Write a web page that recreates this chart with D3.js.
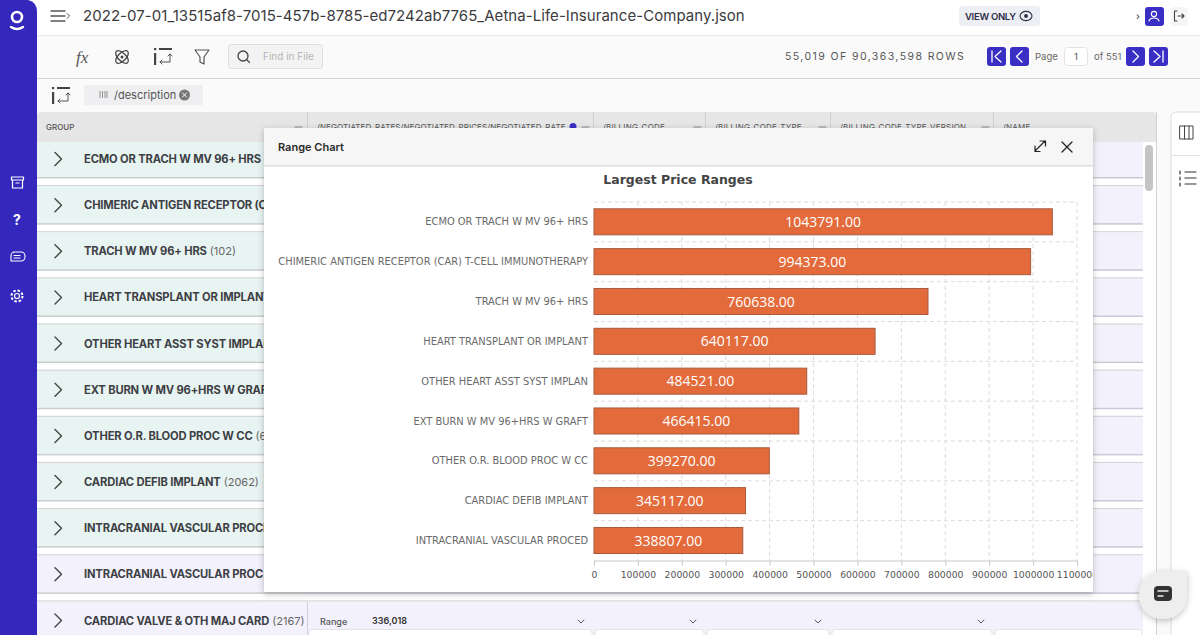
<!DOCTYPE html>
<html>
<head>
<meta charset="utf-8">
<script src="https://cdn.jsdelivr.net/npm/d3@7"></script>
<style>
  html, body { margin: 0; padding: 0; background: #fafafa; overflow: hidden; }
  svg { display: block; font-family: Inter, "Open Sans", sans-serif; }
  .axis text { font-family: "DejaVu Sans", sans-serif; font-size: 9.3px; fill: #555; }
  .axis path, .axis line { stroke: #c8c8d0; }
</style>
</head>
<body>
<script>
// chart data
let categories = ["ECMO OR TRACH W MV 96+ HRS", "CHIMERIC ANTIGEN RECEPTOR (CAR) T-CELL IMMUNOTHERAPY", "TRACH W MV 96+ HRS",
  "HEART TRANSPLANT OR IMPLANT", "OTHER HEART ASST SYST IMPLAN", "EXT BURN W MV 96+HRS W GRAFT",
  "OTHER O.R. BLOOD PROC W CC", "CARDIAC DEFIB IMPLANT", "INTRACRANIAL VASCULAR PROCED"]
let priceRanges = [1043791, 994373, 760638, 640117, 484521, 466415, 399270, 345117, 338807]
let xTicks = [0, 100000, 200000, 300000, 400000, 500000, 600000, 700000, 800000, 900000, 1000000, 1100000]

// table behind the chart
let groupNames = ["ECMO OR TRACH W MV 96+ HRS", "CHIMERIC ANTIGEN RECEPTOR (CAR)", "TRACH W MV 96+ HRS", "HEART TRANSPLANT OR IMPLANT",
  "OTHER HEART ASST SYST IMPLANT", "EXT BURN W MV 96+HRS W GRAFT", "OTHER O.R. BLOOD PROC W CC", "CARDIAC DEFIB IMPLANT",
  "INTRACRANIAL VASCULAR PROCED", "INTRACRANIAL VASCULAR PROC.", "CARDIAC VALVE & OTH MAJ CARD"]
let groupCounts = ["", "", "(102)", "", "", "", "(6", "(2062)", "", "", "(2167)"]
let columnNames = ["/NEGOTIATED_RATES/NEGOTIATED_PRICES/NEGOTIATED_RATE", "/BILLING_CODE", "/BILLING_CODE_TYPE", "/BILLING_CODE_TYPE_VERSION", "/NAME"]
let columnEdges = [307, 593, 705, 830, 993, 1143]

let w = 1200, h = 635
let svg = d3.select("body").append("svg").attr("width", w).attr("height", h)
let defs = svg.append("defs")
let shadow = defs.append("filter").attr("id", "shadow").attr("x", "-30%").attr("y", "-30%").attr("width", "160%").attr("height", "160%")
shadow.append("feDropShadow").attr("dx", 0).attr("dy", 2).attr("stdDeviation", 3).attr("flood-color", "#000").attr("flood-opacity", .25)
defs.append("clipPath").attr("id", "modalClip").append("rect").attr("x", 264).attr("y", 128).attr("width", 829).attr("height", 464)
defs.append("clipPath").attr("id", "pageClip").append("rect").attr("x", 37).attr("y", 112).attr("width", 1119).attr("height", 523)

function rect(p, x, y, width, height, fill, stroke, r) {
  return p.append("rect").attr("x", x).attr("y", y).attr("width", width).attr("height", height)
    .attr("fill", fill).attr("stroke", stroke || "none").attr("rx", r || 0)
}
function label(p, x, y, t, size, fill, weight, anchor, spacing) {
  return p.append("text").attr("x", x).attr("y", y).text(t).attr("font-size", size).attr("fill", fill)
    .attr("font-weight", weight || 400).attr("text-anchor", anchor || "start").attr("letter-spacing", spacing || 0)
}
function stroke(p, d, color, width) {
  return p.append("path").attr("d", d).attr("fill", "none").attr("stroke", color).attr("stroke-width", width || 1.3)
    .attr("stroke-linecap", "round").attr("stroke-linejoin", "round")
}

// page bars
rect(svg, 0, 0, w, 35, "#fff")
rect(svg, 0, 35, w, 1, "#e8e8e8")
rect(svg, 0, 36, w, 42, "#fafafa")
rect(svg, 0, 78, w, 1, "#d4d4d6")
stroke(svg, "M51 11H65M51 16H65M51 21H65", "#555")
stroke(svg, "M67 13.5l2.5 2.5l-2.5 2.5", "#555", 1)
label(svg, 83, 21, "2022-07-01_13515af8-7015-457b-8785-ed7242ab7765_Aetna-Life-Insurance-Company.json", 15, "#3b3b3d", 400, "start", .05)

rect(svg, 959, 6, 81, 20, "#eeeef5", null, 3)
label(svg, 965, 20, "VIEW ONLY", 9.5, "#2c2c44", 600, "start", -.3)
svg.append("ellipse").attr("cx", 1026).attr("cy", 16).attr("rx", 6).attr("ry", 4.6).attr("fill", "none").attr("stroke", "#2c2c44").attr("stroke-width", 1.1)
svg.append("circle").attr("cx", 1026).attr("cy", 16).attr("r", 1.9).attr("fill", "#2c2c44")
label(svg, 1136, 20, "›", 10, "#333")
rect(svg, 1145, 7, 19, 19, "#3a2fc4", null, 3)
svg.append("circle").attr("cx", 1154).attr("cy", 14).attr("r", 2.6).attr("fill", "none").attr("stroke", "#fff").attr("stroke-width", 1.1)
stroke(svg, "M1149 21c1-4 9-4 10 0", "#fff", 1.1)
rect(svg, 1171, 7, 17, 19, "#f6f6f6", null, 3)
stroke(svg, "M1177 11h-2.5v10h2.5M1178 16h6M1182 14l2 2l-2 2", "#444", 1.1)

// toolbar
label(svg, 76, 63, "fx", 17, "#555").attr("font-style", "italic").attr("font-family", "Liberation Serif, serif")
let atom = svg.append("g").attr("transform", "translate(122,57)")
;[45, -45].forEach(a => atom.append("ellipse").attr("rx", 8).attr("ry", 4).attr("transform", `rotate(${a})`)
  .attr("fill", "none").attr("stroke", "#444").attr("stroke-width", 1.3))
atom.append("circle").attr("r", 1.5).attr("fill", "#444")
function pivotIcon(x, y) {
  rect(svg, x, y, 2.2, 2.2, "#444")
  rect(svg, x, y + 5, 2.2, 12, "#444")
  rect(svg, x + 5, y, 13, 2, "#444")
  stroke(svg, `M${x + 16} ${y + 6}v8h-10M${x + 14} ${y + 8}l2-2l2 2M${x + 8} ${y + 12}l-2 2l2 2`, "#444", .9)
}
pivotIcon(154, 48)
stroke(svg, "M195 50H209L204 57V64L200 62V57Z", "#555", 1.2)
rect(svg, 228.5, 44.5, 94, 24, "#f3f3f3", "#dedede", 3)
svg.append("circle").attr("cx", 243).attr("cy", 56).attr("r", 5).attr("fill", "none").attr("stroke", "#444").attr("stroke-width", 1.3)
stroke(svg, "M247 60l2.5 2.5", "#444", 1.3)
label(svg, 263, 60, "Find in File", 10, "#b4b4b8", 400)

label(svg, 785, 60, "55,019 OF 90,363,598 ROWS", 10.5, "#555", 400, "start", 1.42)
function pageBtn(x, d) {
  rect(svg, x, 47, 19, 19, "#3a2fc4", null, 3)
  stroke(svg, d(x), "#fff", 1.3)
}
pageBtn(987, x => `M${x + 5} 51v11M${x + 14} 51l-6 5.5l6 5.5`)
pageBtn(1010, x => `M${x + 12} 51l-5.5 5.5l5.5 5.5`)
label(svg, 1035, 60, "Page", 9.5, "#666")
rect(svg, 1064.5, 47.5, 23, 18, "#fff", "#e2e2e2", 3)
label(svg, 1076, 60, "1", 9.5, "#555", 400, "middle")
label(svg, 1094, 60, "of 551", 9.5, "#666")
pageBtn(1126, x => `M${x + 7} 51l5.5 5.5l-5.5 5.5`)
pageBtn(1149, x => `M${x + 14} 51v11M${x + 5} 51l6 5.5l-6 5.5`)

// group bar
pivotIcon(52, 87)
rect(svg, 84, 85, 119, 20, "#efeff1")
stroke(svg, "M100 91.500v6M102.500 91.500v6M105 91.500v6M107 91.500v6", "#777", .8)
label(svg, 114, 99, "/description", 11, "#555")
svg.append("circle").attr("cx", 184.500).attr("cy", 95).attr("r", 5.500).attr("fill", "#777")
stroke(svg, "M182.500 93l4 4M186.500 93l-4 4", "#fff", 1)

// table
let table = svg.append("g").attr("clip-path", "url(#pageClip)")
rect(table, 37, 112, 1119, 40, "#e6e6e7", null, 4)
rect(table, 37, 142, 1119, 500, "#fff")
label(table, 46, 130, "GROUP", 8, "#555", 500)
stroke(table, "M295 127h7", "#888", 1)
columnNames.forEach((c, i) => {
  label(table, columnEdges[i] + 10, 130, c, 8, "#555", 400, "start", i == 0 ? .08 : .2)
  rect(table, columnEdges[i], 112, 1, 30, "#d0d0d2")
  if (i < 4) stroke(table, `M${columnEdges[i + 1] - 11} 127h7`, "#888", 1)
})
table.append("circle").attr("cx", 573).attr("cy", 126.5).attr("r", 3.500).attr("fill", "#3a2fc4")
groupNames.forEach((g, i) => {
  let cy = 159 + 46.15 * i
  let top = i == 0 ? 142 : cy - 19
  let fill = i < 9 ? "#e8f4f2" : "#f3f2fc"
  rect(table, 37, top, 270, cy + 19 - top, fill)
  rect(table, 37, cy + 18, 270, 1.5, "#c9ced0")
  rect(table, 307, top, 836, cy + 19 - top, "#f3f2fc")
  rect(table, 307, cy + 18, 836, 1.5, "#c9c9d8")
  rect(table, 37, cy + 26, 1106, 1.5, "#d4d4d8")
  stroke(table, `M55 ${cy - 6.500}l6.500 6.500l-6.500 6.500`, "#444", 1.4)
  let name = label(table, 84, cy + 4, g, 11.2, "#3d3f45", 700, "start", -.15)
  if (groupCounts[i]) {
    let nw = name.node().getComputedTextLength()
    label(table, 84 + nw + 3, cy + 4, groupCounts[i], 11, "#666")
  }
})
rect(table, 307, 602, 1, 33, "#d0d0d8")
label(table, 320, 625, "Range", 9, "#555", 500)
label(table, 372, 624, "336,018", 9, "#333", 600)
columnEdges.slice(1, 5).forEach(x => stroke(table, `M${x - 15} 620l3 3l3-3`, "#555", 1))
columnEdges.slice(0, 5).forEach((x, i) => rect(table, x + 2, 629.500, columnEdges[i + 1] - x - 3, 8, "#fff", "#e2e2e8", 3))
rect(table, 1145, 142, 11, 493, "#fff")
rect(table, 1145, 145, 8, 46, "#c4c4c4", null, 4)
rect(svg, 1156, 112, 1, 523, "#d2d2d6")

// side panel
rect(svg, 1171, 112, 40, 530, "#fff", "#dcdce0", 5)
rect(svg, 1171, 155, 29, 1, "#e2e2e4")
stroke(svg, "M1180 126h13v13h-13zM1184.500 126v13M1189 126v13", "#444", 1)
stroke(svg, "M1185 172h11M1185 178h11M1185 184h11M1180 171v3M1180 177v3M1180 183v3", "#333", 1.2)

// sidebar
let side = svg.append("g")
side.append("path").attr("d", "M0 0H28Q37 2 37 12V635H0Z").attr("fill", "#3327bc")
side.append("circle").attr("cx", 17).attr("cy", 17).attr("r", 5).attr("fill", "none").attr("stroke", "#fff").attr("stroke-width", 2.6)
stroke(side, "M11 27q6 4 12 0", "#fff", 2.4)
stroke(side, "M11.500 177h12v3h-12zM12.500 180v8h10v-8M16 183h3", "#fff", 1.2)
label(side, 17, 225, "?", 14, "#fff", 700, "middle")
stroke(side, "M13 252h8a4 4 0 0 1 4 4v1a4 4 0 0 1-4 4h-10v-5a4 4 0 0 1 4-4zM14 255.500h6M14 258h6", "#fff", 1.1)
side.append("circle").attr("cx", 17).attr("cy", 296).attr("r", 2.500).attr("fill", "none").attr("stroke", "#fff").attr("stroke-width", 1.200)
side.append("circle").attr("cx", 17).attr("cy", 296).attr("r", 5.500).attr("fill", "none").attr("stroke", "#fff").attr("stroke-width", 2).attr("stroke-dasharray", "2.500 1.800")

// modal with the chart
let modal = svg.append("g")
rect(modal, 264, 128, 829, 464, "#fff").attr("filter", "url(#shadow)")
rect(modal, 264, 128, 829, 37, "#f6f6f6")
rect(modal, 264, 165, 829, 1.5, "#dddddf")
label(modal, 278, 151, "Range Chart", 11, "#2a2a2a", 600)
stroke(modal, "M1035 151l10-10M1040 141h5.500v5M1035 146v5.500h5", "#222", 1.2)
stroke(modal, "M1062 142l10 10M1072 142l-10 10", "#222", 1.3)

let chart = modal.append("g").attr("clip-path", "url(#modalClip)").attr("font-family", "DejaVu Sans, sans-serif")
label(chart, 678, 184, "Largest Price Ranges", 12.5, "#444", 700, "middle")

let margin = { left: 594, right: 123, top: 202, bottom: 74.5 }
let xScale = d3.scaleLinear().domain([0, 1100000]).range([margin.left, w - margin.right])
let yScale = d3.scaleBand().domain(categories).range([margin.top, h - margin.bottom])

// dashed grid
chart.selectAll(".vgrid").data(xTicks.slice(1)).enter().append("line")
  .attr("x1", d => xScale(d)).attr("x2", d => xScale(d))
  .attr("y1", margin.top).attr("y2", h - margin.bottom)
  .attr("stroke", "#dcdcdc").attr("stroke-dasharray", "4 3")
chart.selectAll(".hgrid").data(categories).enter().append("line")
  .attr("x1", margin.left).attr("x2", w - margin.right)
  .attr("y1", d => yScale(d)).attr("y2", d => yScale(d))
  .attr("stroke", "#dcdcdc").attr("stroke-dasharray", "4 3")

chart.selectAll(".bar").data(categories).enter().append("rect")
  .attr("class", "bar")
  .attr("x", xScale(0))
  .attr("y", d => yScale(d) + 6.800)
  .attr("width", (d, i) => xScale(priceRanges[i]) - xScale(0))
  .attr("height", yScale.bandwidth() - 13.800)
  .attr("fill", "#e36b3b").attr("stroke", "#a9583c")

chart.selectAll(".val").data(categories).enter().append("text")
  .attr("x", (d, i) => (xScale(0) + xScale(priceRanges[i])) / 2)
  .attr("y", d => yScale(d) + yScale.bandwidth() / 2 + 5)
  .attr("text-anchor", "middle").attr("font-size", 14).attr("fill", "#fff")
  .attr("font-family", "Open Sans, sans-serif")
  .text((d, i) => priceRanges[i].toFixed(2))

chart.selectAll(".cat").data(categories).enter().append("text")
  .attr("x", margin.left - 6)
  .attr("y", d => yScale(d) + yScale.bandwidth() / 2 + 3.500)
  .attr("text-anchor", "end").attr("font-size", 9.900).attr("fill", "#6a6a6a")
  .text(d => d)

chart.append("g").attr("class", "axis")
  .attr("transform", `translate(0,${h - margin.bottom})`)
  .call(d3.axisBottom(xScale).tickValues(xTicks).tickFormat(d3.format("d")).tickSizeOuter(0).tickSize(5).tickPadding(6))

// chat button
svg.append("path").attr("d", "M1163 571H1187V595A24 24 0 1 1 1163 571Z").attr("fill", "#eeeeee").attr("filter", "url(#shadow)")
rect(svg, 1154, 586, 18, 15, "#333", null, 4)
stroke(svg, "M1158 591h10M1158 596h5", "#eee", 1.4)
</script>
</body>
</html>
